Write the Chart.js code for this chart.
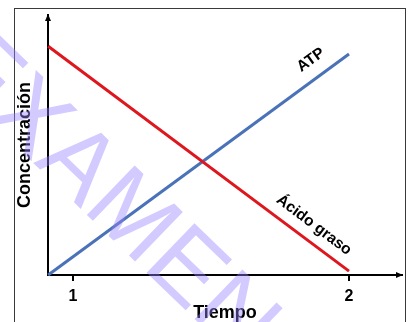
<!DOCTYPE html>
<html>
<head>
<meta charset="utf-8">
<script src="https://cdn.jsdelivr.net/npm/chart.js@4"></script>
<style>
html,body{margin:0;padding:0;background:#fff;}
#wrap{width:413px;height:322px;position:relative;}
</style>
</head>
<body>
<div id="wrap"><canvas id="c" width="413" height="322"></canvas></div>
<script>
// Data
const tiempo = [0.91, 2];            // x values of line endpoints
const acidoGraso = [88, 1.5];        // concentration of fatty acid
const atp = [0, 85];                 // concentration of ATP
const xTickValues = [1, 2];
const seriesLabels = ['Ácido graso', 'ATP'];
const labelPositions = [ {x: 1.873, y: 19.2, angle: 37}, {x: 1.862, y: 82.7, angle: -36} ];
const axisTitles = {x: 'Tiempo', y: 'Concentración'};
const watermarkText = 'EXAMEN';

const FONT = "'Liberation Sans', Arial, sans-serif";

const decor = {
  id: 'decor',
  beforeDraw(chart) {
    const ctx = chart.ctx;
    ctx.save();
    ctx.fillStyle = '#fff';
    ctx.fillRect(0, 0, chart.width, chart.height);
    ctx.strokeStyle = '#3a3a3a';
    ctx.lineWidth = 1;
    ctx.strokeRect(14.5, 8.5, 391, 330);
    ctx.restore();
  },
  afterDraw(chart) {
    const ctx = chart.ctx;
    const xs = chart.scales.x, ys = chart.scales.y;
    const ca = chart.chartArea;
    ctx.save();
    // arrows
    ctx.fillStyle = '#000';
    ctx.beginPath();
    ctx.moveTo(ca.left, ca.top - 1);
    ctx.lineTo(ca.left - 3, ca.top + 6);
    ctx.lineTo(ca.left + 3, ca.top + 6);
    ctx.closePath();
    ctx.fill();
    ctx.beginPath();
    ctx.moveTo(ca.right + 1, ca.bottom);
    ctx.lineTo(ca.right - 6, ca.bottom - 3);
    ctx.lineTo(ca.right - 6, ca.bottom + 3);
    ctx.closePath();
    ctx.fill();
    // series labels
    ctx.font = "bold 15.5px " + FONT;
    ctx.textAlign = 'center';
    ctx.textBaseline = 'middle';
    labelPositions.forEach((p, i) => {
      ctx.save();
      ctx.translate(xs.getPixelForValue(p.x), ys.getPixelForValue(p.y));
      ctx.rotate(p.angle * Math.PI / 180);
      ctx.fillText(seriesLabels[i], 0, 0);
      ctx.restore();
    });
    // watermark
    ctx.save();
    ctx.globalAlpha = 0.42;
    ctx.fillStyle = 'rgb(150,128,255)';
    ctx.font = "100px " + FONT;
    ctx.translate(108, 197);
    ctx.rotate(44 * Math.PI / 180);
    ctx.fillText(watermarkText, 0, 0);
    ctx.restore();
    ctx.restore();
  }
};

new Chart(document.getElementById('c'), {
  type: 'line',
  data: {
    datasets: [
      { label: seriesLabels[0], data: tiempo.map((t, i) => ({x: t, y: acidoGraso[i]})),
        borderColor: 'rgb(222,22,30)', borderWidth: 3, pointRadius: 0, clip: false, tension: 0 },
      { label: seriesLabels[1], data: tiempo.map((t, i) => ({x: t, y: atp[i]})),
        borderColor: 'rgb(74,114,184)', borderWidth: 3, pointRadius: 0, clip: false, tension: 0 }
    ]
  },
  options: {
    responsive: false,
    animation: false,
    layout: { padding: { left: 16, right: 11, top: 15, bottom: 0 } },
    plugins: { legend: { display: false }, tooltip: { enabled: false } },
    scales: {
      x: {
        type: 'linear', min: 0.9094, max: 2.192,
        afterBuildTicks: (s) => { s.ticks = xTickValues.map(v => ({value: v})); },
        grid: { display: true, drawOnChartArea: false, drawTicks: true, tickLength: 6, color: '#000', lineWidth: 2 },
        border: { display: true, color: '#000', width: 2 },
        ticks: { color: '#000', padding: 8, font: { family: FONT, size: 16, weight: 'bold', lineHeight: 1 } },
        title: { display: true, text: axisTitles.x, color: '#000',
          font: { family: FONT, size: 18, weight: 'bold', lineHeight: 1 }, padding: { top: -9, bottom: 0 } }
      },
      y: {
        min: 0, max: 100,
        grid: { display: false, drawTicks: false },
        border: { display: true, color: '#000', width: 2 },
        ticks: { display: false },
        title: { display: true, text: axisTitles.y, color: '#000',
          font: { family: FONT, size: 18, weight: 'bold', lineHeight: 1 }, padding: { top: 0, bottom: 14 } }
      }
    }
  },
  plugins: [decor]
});
</script>
</body>
</html>
